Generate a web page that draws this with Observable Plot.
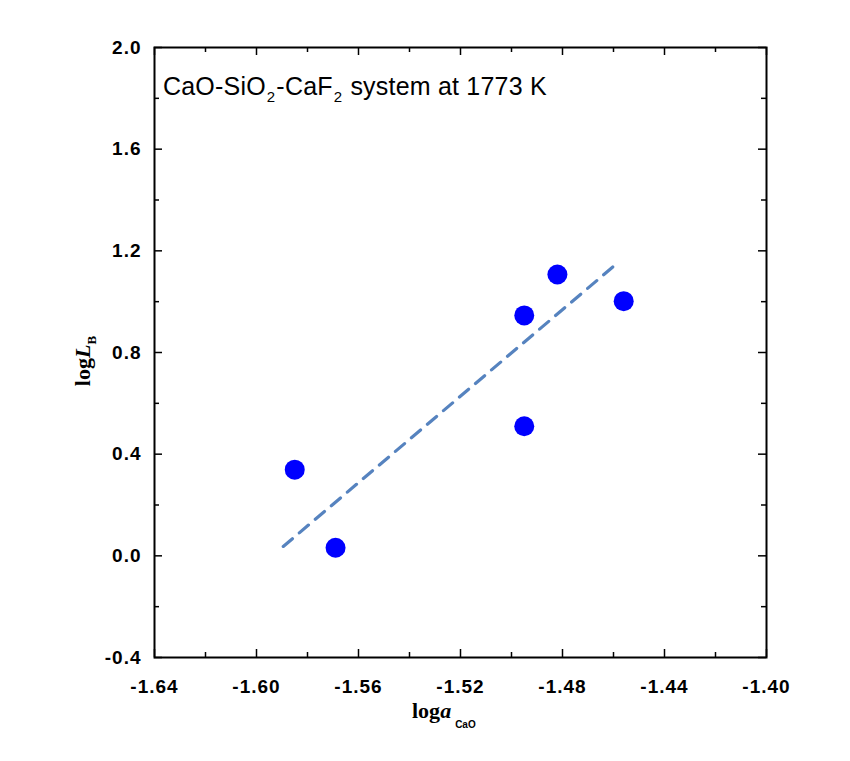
<!DOCTYPE html>
<html><head><meta charset="utf-8">
<script src="https://cdn.jsdelivr.net/npm/d3@7"></script>
<script src="https://cdn.jsdelivr.net/npm/@observablehq/plot@0.6"></script>
<style>body{margin:0;background:#fff}</style>
</head><body><div id="chart"></div>
<script>
// data
const logaCaO = [-1.585, -1.569, -1.495, -1.495, -1.482, -1.456];
const logLB   = [0.339, 0.032, 0.946, 0.510, 1.107, 1.002];
// dashed regression line end points
const fitX = [-1.5895, -1.4596];
const fitY = [0.037, 1.142];
// ticks
const xMajorTicks = [-1.64, -1.60, -1.56, -1.52, -1.48, -1.44, -1.40];
const xMinorTicks = [-1.62, -1.58, -1.54, -1.50, -1.46, -1.42];
const yMajorTicks = [-0.4, 0.0, 0.4, 0.8, 1.2, 1.6, 2.0];
const yMinorTicks = [-0.2, 0.2, 0.6, 1.0, 1.4, 1.8];
const xTickLabels = ["-1.64", "-1.60", "-1.56", "-1.52", "-1.48", "-1.44", "-1.40"];
const yTickLabels = ["-0.4", "0.0", "0.4", "0.8", "1.2", "1.6", "2.0"];

const points = logaCaO.map((x, i) => ({x, y: logLB[i]}));
const fit = fitX.map((x, i) => ({x, y: fitY[i]}));

const W = 850, H = 761, mL = 154, mR = 84, mT = 47, mB = 104;
const innerH = H - mT - mB, innerW = W - mL - mR;
const majorLen = 8, minorLen = 5;

const tickFont = {fontSize: 19, fontWeight: "bold", fontFamily: "'Liberation Sans', Arial, sans-serif", fill: "#000"};

const svg = Plot.plot({
  width: W, height: H,
  marginLeft: mL, marginRight: mR, marginTop: mT, marginBottom: mB,
  style: {background: "#fff", overflow: "visible"},
  x: {domain: [-1.64, -1.40]},
  y: {domain: [-0.4, 2.0]},
  marks: [
    // inward ticks on all four sides
    Plot.tickX(xMajorTicks, {x: d => d, insetTop: innerH - majorLen, stroke: "#000", strokeWidth: 1.5}),
    Plot.tickX(xMinorTicks, {x: d => d, insetTop: innerH - minorLen, stroke: "#000", strokeWidth: 1.5}),
    Plot.tickX(xMajorTicks, {x: d => d, insetBottom: innerH - majorLen, stroke: "#000", strokeWidth: 1.5}),
    Plot.tickX(xMinorTicks, {x: d => d, insetBottom: innerH - minorLen, stroke: "#000", strokeWidth: 1.5}),
    Plot.tickY(yMajorTicks, {y: d => d, insetRight: innerW - majorLen, stroke: "#000", strokeWidth: 1.5}),
    Plot.tickY(yMinorTicks, {y: d => d, insetRight: innerW - minorLen, stroke: "#000", strokeWidth: 1.5}),
    Plot.tickY(yMajorTicks, {y: d => d, insetLeft: innerW - majorLen, stroke: "#000", strokeWidth: 1.5}),
    Plot.tickY(yMinorTicks, {y: d => d, insetLeft: innerW - minorLen, stroke: "#000", strokeWidth: 1.5}),
    Plot.axisX({ticks: xMajorTicks, tickSize: 0, tickPadding: 22, label: null,
      tickFormat: (d) => xTickLabels[xMajorTicks.indexOf(d)], ...tickFont}),
    Plot.axisY({ticks: yMajorTicks, tickSize: 0, tickPadding: 13, label: null,
      tickFormat: (d) => yTickLabels[yMajorTicks.indexOf(d)], ...tickFont}),
    Plot.frame({stroke: "#000", strokeWidth: 2}),
    Plot.line(fit, {x: "x", y: "y", stroke: "#5683bf", strokeWidth: 3.2, strokeDasharray: "12,9"}),
    Plot.dot(points, {x: "x", y: "y", r: 10, fill: "#0000ff", stroke: "none"})
  ]
});

const s = d3.select(svg);
s.selectAll("g[aria-label$='axis tick label'] text").attr("letter-spacing", 1);
// annotation
const ann = s.append("text")
  .attr("x", 163).attr("y", 95)
  .attr("text-anchor", "start")
  .attr("font-family", "'Liberation Sans', Arial, sans-serif")
  .attr("font-size", 25).attr("fill", "#000")
  .attr("letter-spacing", 0.2);
ann.append("tspan").text("CaO-SiO");
ann.append("tspan").attr("font-size", 15).attr("dx", 1).attr("dy", 7).text("2");
ann.append("tspan").attr("dx", 1).attr("dy", -7).text("-CaF");
ann.append("tspan").attr("font-size", 15).attr("dx", 1).attr("dy", 7).text("2");
ann.append("tspan").attr("dx", 1).attr("dy", -7).text(" system at 1773 K");

// x label
const xl = s.append("text")
  .attr("x", 412).attr("y", 718)
  .attr("text-anchor", "start")
  .attr("font-family", "'Liberation Serif', 'Times New Roman', serif")
  .attr("font-weight", "bold").attr("font-size", 22).attr("fill", "#000");
xl.append("tspan").text("log");
xl.append("tspan").attr("font-style", "italic").text("a");
xl.append("tspan").attr("font-family", "'Liberation Sans', Arial, sans-serif")
  .attr("font-size", 10).attr("dx", 4).attr("dy", 10).text("CaO");

// y label
const yl = s.append("text")
  .attr("transform", "translate(90,361) rotate(-90)")
  .attr("text-anchor", "middle")
  .attr("font-family", "'Liberation Serif', 'Times New Roman', serif")
  .attr("font-weight", "bold").attr("font-size", 22).attr("fill", "#000");
yl.append("tspan").text("log");
yl.append("tspan").attr("font-style", "italic").text("L");
yl.append("tspan").attr("font-size", 13).attr("dy", 6).text("B");

document.getElementById("chart").appendChild(svg);
</script>
</body></html>
